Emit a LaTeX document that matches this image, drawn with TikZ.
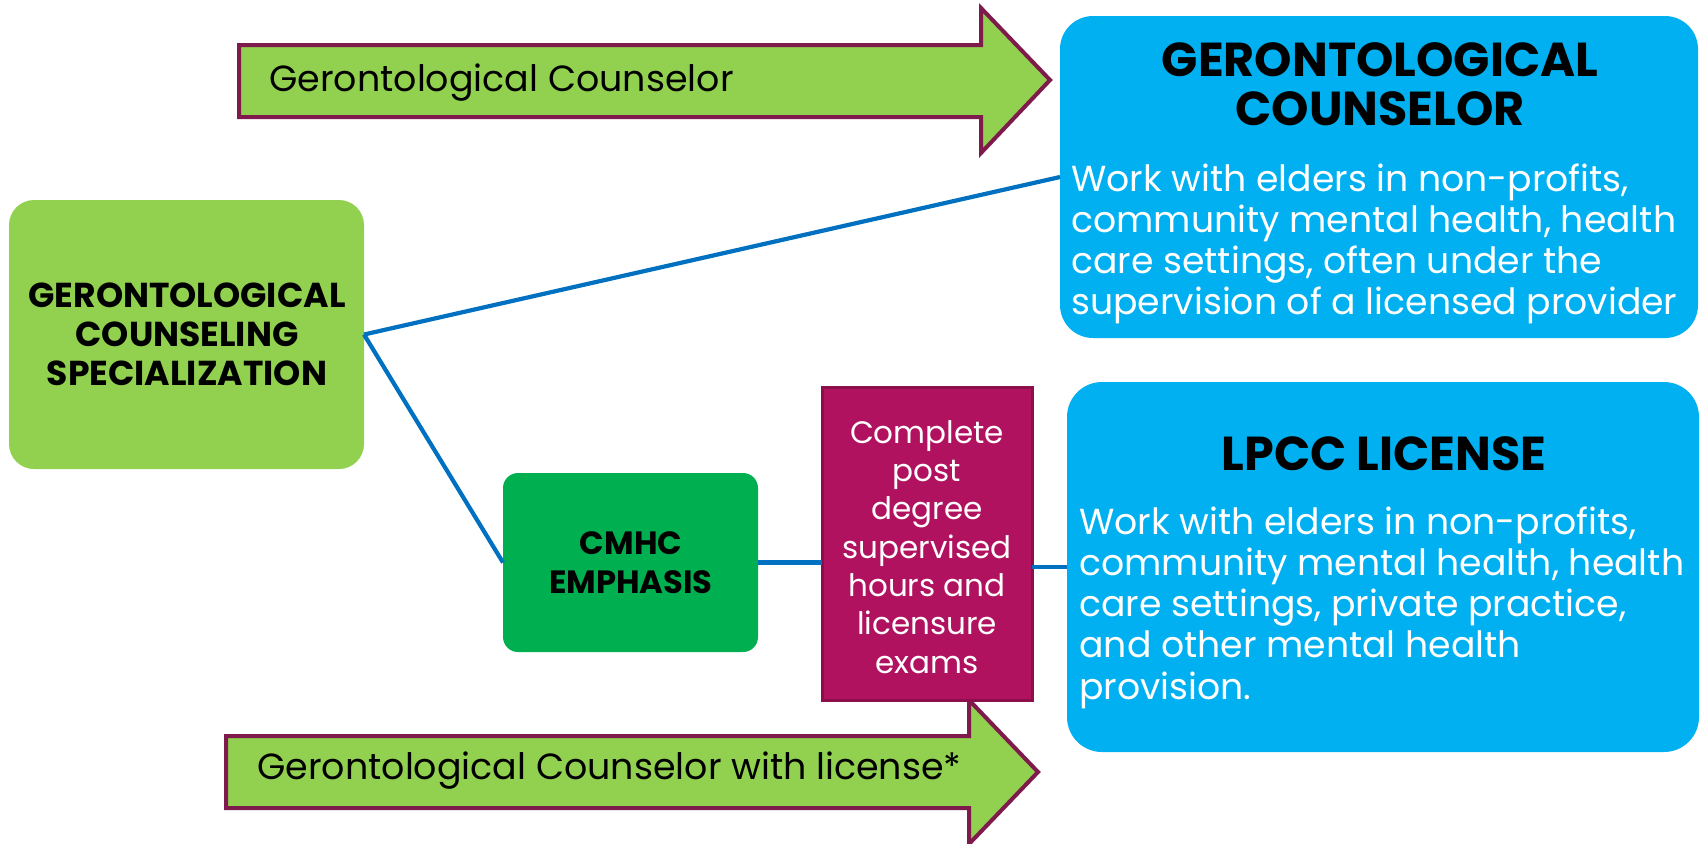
\documentclass[tikz,border=0pt]{standalone}
\usepackage{fontspec}
\setmainfont{Poppins}
\definecolor{lgreen}{HTML}{92D050}
\definecolor{dgreen}{HTML}{00B050}
\definecolor{cyanbox}{HTML}{00B0F0}
\definecolor{magbox}{HTML}{B01260}
\definecolor{magline}{HTML}{8A0F4B}
\definecolor{arrline}{HTML}{7E1A4C}
\definecolor{conn}{HTML}{0070C0}
\begin{document}
\begin{tikzpicture}[x=0.5pt,y=-0.5pt,
  panel/.style={draw=none, inner sep=0pt, outer sep=0pt},
  arrowshape/.style={fill=lgreen, draw=arrline, line width=2pt, line join=miter},
  conline/.style={draw=conn, line width=2.1pt},
  titletext/.style={inner sep=0pt, anchor=base, align=center, font=\fontsize{23.8}{24.5}\selectfont\bfseries},
  bodytext/.style={inner sep=0pt, anchor=base west, align=left, text=white, font=\fontsize{18.1}{20.5}\selectfont},
  boldtext/.style={inner sep=0pt, anchor=base, align=center, font=\fontsize{17.3}{19.5}\selectfont\bfseries},
  arrtext/.style={inner sep=0pt, anchor=base west, font=\fontsize{18.2}{20}\selectfont}
]
\useasboundingbox (0,0) rectangle (1701,843);

% arrows
\draw[arrowshape] (239,45) -- (981,45) -- (981,8) -- (1050,80) -- (981,153) -- (981,117) -- (239,117) -- cycle;
\draw[arrowshape] (226,736) -- (969,736) -- (969,700) -- (1038,772) -- (969,844) -- (969,808) -- (226,808) -- cycle;
\node[arrtext] (t1) at (269,91) {Gerontological Counselor};
\node[arrtext] (t2) at (257,779) {Gerontological Counselor with license*};

% boxes
\node[panel, fill=cyanbox, rounded corners=16.5pt, minimum width=319pt, minimum height=161pt] (gc) at (1379,177) {};
\node[panel, fill=lgreen, rounded corners=12.5pt, minimum width=177.5pt, minimum height=134.5pt] (spec) at (186.5,334.5) {};
\node[panel, fill=dgreen, rounded corners=7.5pt, minimum width=127.5pt, minimum height=89.5pt] (cmhc) at (630.5,562.5) {};
\node[panel, fill=magbox, draw=magline, line width=1.5pt, minimum width=105pt, minimum height=156.5pt] (post) at (927,543.5) {};
\node[panel, fill=cyanbox, rounded corners=17.5pt, minimum width=316pt, minimum height=185pt] (lpcc) at (1383,567) {};

% connectors
\draw[conline] (spec.east) -- (gc.west);
\draw[conline] (spec.east) -- (cmhc.west);
\draw[conline] (cmhc.east) -- (post.west |- cmhc.east);
\draw[conline] (post.east |- lpcc.west) -- (lpcc.west);

% texts (anchor base = baseline of last line)
\node[titletext] (gct) at (1380,125) {GERONTOLOGICAL\\COUNSELOR};
\node[bodytext] (gcb) at (1071,314) {Work with elders in non-profits,\\community mental health, health\\care settings, often under the\\supervision of a licensed provider};
\node[boldtext] (spect) at (187,385) {GERONTOLOGICAL\\COUNSELING\\SPECIALIZATION};
\node[boldtext, font=\fontsize{16.1}{19.5}\selectfont\bfseries] (cmhct) at (631,593) {CMHC\\EMPHASIS};
\node[inner sep=0pt, anchor=base, align=center, text=white, font=\fontsize{15.5}{19.15}\selectfont] (postt) at (927,673) {Complete\\post\\degree\\supervised\\hours and\\licensure\\exams};
\node[titletext] (lpcct) at (1384,470) {LPCC LICENSE};
\node[bodytext, font=\fontsize{18.1}{20.6}\selectfont] (lpccb) at (1079,699) {Work with elders in non-profits,\\community mental health, health\\care settings, private practice,\\and other mental health\\provision.};
\end{tikzpicture}
\end{document}
